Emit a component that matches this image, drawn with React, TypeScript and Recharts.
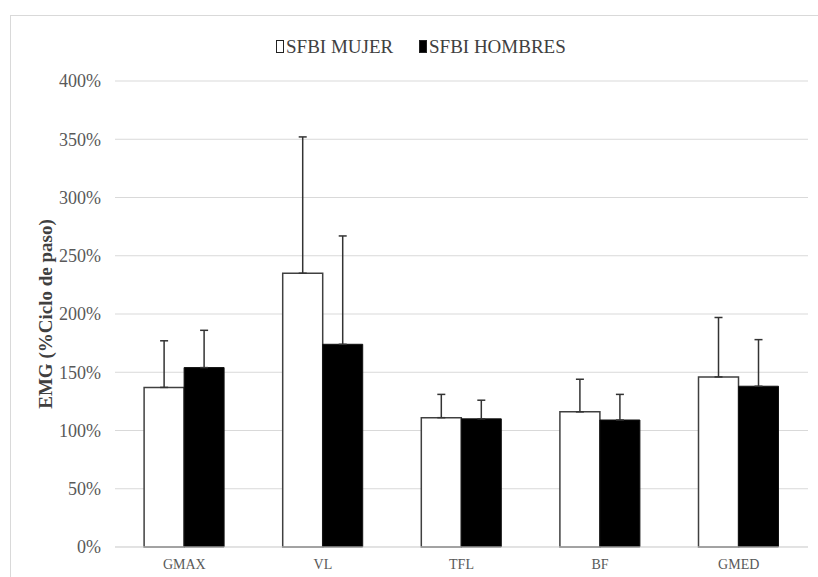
import React from "react";
import {
  BarChart,
  Bar,
  XAxis,
  YAxis,
  CartesianGrid,
  ErrorBar,
} from "recharts";

const categories = ["GMAX", "VL", "TFL", "BF", "GMED"];
const mujer = [137, 235, 111, 116, 146];
const hombres = [154, 174, 110, 109, 138];
const mujerSd = [40, 117, 20, 28, 51];
const hombresSd = [32, 93, 16, 22, 40];
const yTicks = [0, 50, 100, 150, 200, 250, 300, 350, 400];

const data = categories.map((name, i) => ({
  name,
  mujer: mujer[i],
  hombres: hombres[i],
  mujerErr: [0, mujerSd[i]],
  hombresErr: [0, hombresSd[i]],
}));

const FONT = '"Liberation Serif", "Times New Roman", serif';

const legendItems = [
  { label: "SFBI MUJER", fill: "#fff", x: 276 },
  { label: "SFBI HOMBRES", fill: "#000", x: 419 },
];

// legend drawn in its own svg above the chart
function LegendBox() {
  return (
    <svg width={818} height={70} style={{ position: "absolute", left: 0, top: 0 }}>
      {legendItems.map((it) => (
        <g key={it.label}>
          <rect x={it.x + 0.5} y={40.5} width={7} height={12} fill={it.fill} stroke="#222" strokeWidth={1} />
          <text x={it.x + 10} y={53} fontFamily={FONT} fontSize={19} fill="#404040">
            {it.label}
          </text>
        </g>
      ))}
    </svg>
  );
}

export default function App() {
  return (
    <div style={{ position: "absolute", left: 0, top: 0, width: 818, height: 577, background: "#fff" }}>
      {/* frame of the original figure */}
      <div
        style={{
          position: "absolute",
          left: 10,
          top: 15,
          width: 808,
          height: 562,
          borderLeft: "1px solid #d9d9d9",
          borderTop: "1px solid #d9d9d9",
        }}
      />
      <LegendBox />
      <BarChart
        width={818}
        height={577}
        data={data}
        margin={{ top: 81, right: 10, bottom: 0, left: 0 }}
        barCategoryGap="21%"
        barGap={0}
        style={{ position: "absolute", left: 0, top: 0 }}
      >
        <CartesianGrid stroke="#d9d9d9" vertical={false} />
        <XAxis
          dataKey="name"
          height={30}
          axisLine={{ stroke: "#d9d9d9" }}
          tickLine={false}
          tickMargin={6}
          tick={{ fill: "#595959", fontSize: 14, fontFamily: FONT }}
        />
        <YAxis
          width={115}
          domain={[0, 400]}
          ticks={yTicks}
          tickFormatter={(v) => `${v}%`}
          axisLine={false}
          tickLine={false}
          tickMargin={8}
          tick={{ fill: "#595959", fontSize: 18, fontFamily: FONT }}
          label={{
            value: "EMG (%Ciclo de paso)",
            angle: -90,
            position: "center",
            dx: -12,
            style: { fill: "#404040", fontSize: 19, fontWeight: "bold", fontFamily: FONT },
          }}
        />
        <Bar dataKey="mujer" fill="#fff" stroke="#404040" strokeWidth={1.5} isAnimationActive={false}>
          <ErrorBar dataKey="mujerErr" direction="y" width={4} stroke="#333" strokeWidth={1.5} isAnimationActive={false} />
        </Bar>
        <Bar dataKey="hombres" fill="#000" stroke="#111" strokeWidth={1} isAnimationActive={false}>
          <ErrorBar dataKey="hombresErr" direction="y" width={4} stroke="#333" strokeWidth={1.5} isAnimationActive={false} />
        </Bar>
      </BarChart>
    </div>
  );
}
